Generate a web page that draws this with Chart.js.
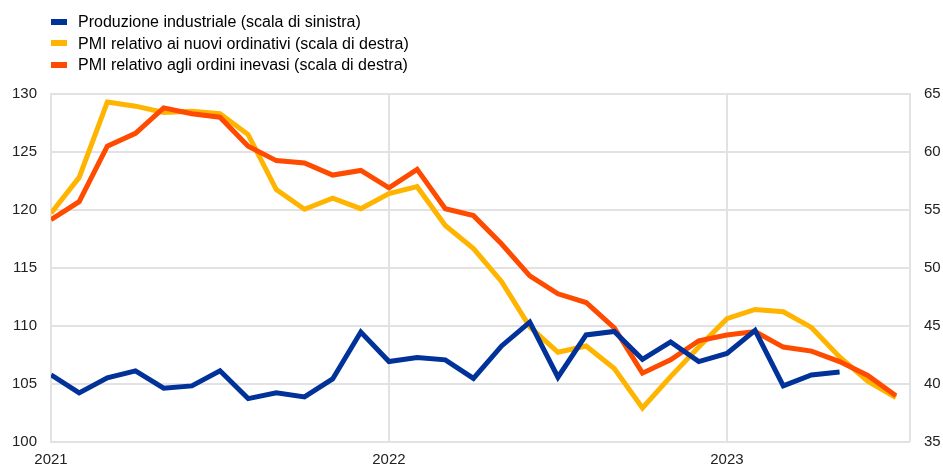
<!DOCTYPE html>
<html>
<head>
<meta charset="utf-8">
<script src="https://cdn.jsdelivr.net/npm/chart.js@4"></script>
<style>
  body { margin: 0; background: #fff; font-family: "Liberation Sans", Arial, sans-serif; }
  #wrap { position: relative; width: 943px; height: 468px; }
  #legend { position: absolute; left: 51px; top: 11px; font-size: 16px; color: #000; }
  .item { height: 21.7px; line-height: 21.7px; white-space: nowrap; }
  .item span.box { display: inline-block; width: 16px; height: 6px; margin-right: 11px; vertical-align: middle; position: relative; top: -1px; }
</style>
</head>
<body>
<div id="wrap">
  <canvas id="chart"></canvas>
  <div id="legend"></div>
</div>
<script>
// monthly, Jan 2021 -> Jul 2023
var months = ['2021-01','2021-02','2021-03','2021-04','2021-05','2021-06','2021-07','2021-08','2021-09','2021-10','2021-11','2021-12',
  '2022-01','2022-02','2022-03','2022-04','2022-05','2022-06','2022-07','2022-08','2022-09','2022-10','2022-11','2022-12',
  '2023-01','2023-02','2023-03','2023-04','2023-05','2023-06','2023-07'];
var yearLabels = ['2021', '2022', '2023'];

// left scale
var produzione = [105.75, 104.2, 105.5, 106.1, 104.6, 104.8, 106.1, 103.7, 104.2, 103.85, 105.4, 109.45,
  106.9, 107.25, 107.05, 105.45, 108.25, 110.3, 105.55, 109.2, 109.5, 107.1, 108.6, 106.9,
  107.6, 109.6, 104.8, 105.75, 106.0];
// right scale
var nuoviOrdinativi = [54.7, 57.8, 64.3, 63.95, 63.4, 63.5, 63.3, 61.5, 56.75, 55.05, 56.0, 55.1,
  56.4, 57.0, 53.65, 51.65, 48.8, 44.9, 42.7, 43.25, 41.3, 37.9, 40.6, 43.15,
  45.6, 46.4, 46.2, 44.85, 42.3, 40.2, 38.8];
var ordiniInevasi = [54.15, 55.7, 60.5, 61.6, 63.8, 63.3, 63.0, 60.5, 59.25, 59.05, 58.0, 58.4,
  56.9, 58.5, 55.1, 54.5, 52.05, 49.3, 47.75, 47.0, 44.8, 40.9, 42.05, 43.7,
  44.2, 44.5, 43.15, 42.8, 41.9, 40.7, 38.95];

var names = ['Produzione industriale (scala di sinistra)',
  'PMI relativo ai nuovi ordinativi (scala di destra)',
  'PMI relativo agli ordini inevasi (scala di destra)'];
var colors = ['#003299', '#ffb400', '#ff4b00'];

function pts(arr){
  return arr.map(function(v, i){ return {x: i, y: v}; });
}

var gridColor = '#e2e2e2';
var font = {family: '"Liberation Sans", Arial, sans-serif', size: 15};

// html legend
var lg = document.getElementById('legend');
names.forEach(function(n, i){
  var d = document.createElement('div');
  d.className = 'item';
  d.innerHTML = '<span class="box" style="background:' + colors[i] + '"></span>' + n;
  lg.appendChild(d);
});

Chart.defaults.color = '#222';
var ctx = document.getElementById('chart').getContext('2d');
new Chart(ctx, {
  type: 'line',
  data: {
    datasets: [{
      label: names[0], data: pts(produzione), yAxisID: 'y',
      borderColor: colors[0], borderWidth: 5, order: 0
    }, {
      label: names[1], data: pts(nuoviOrdinativi), yAxisID: 'y1',
      borderColor: colors[1], borderWidth: 5, order: 2
    }, {
      label: names[2], data: pts(ordiniInevasi), yAxisID: 'y1',
      borderColor: colors[2], borderWidth: 5, order: 1
    }]
  },
  options: {
    responsive: true,
    maintainAspectRatio: false,
    animation: false,
    layout: { padding: { top: 94, right: 0, bottom: 0, left: 0 } },
    elements: { point: { radius: 0 }, line: { tension: 0, fill: false } },
    plugins: { legend: { display: false }, tooltip: { enabled: false } },
    scales: {
      x: {
        type: 'linear', min: 0, max: 30.5,
        afterBuildTicks: function(ax){ ax.ticks = yearLabels.map(function(y, i){ return {value: i * 12}; }); },
        afterFit: function(ax){ ax.height = 26.5; },
        ticks: { font: font, padding: 9, maxRotation: 0,
          callback: function(v){ return yearLabels[v / 12]; } },
        grid: { color: gridColor, lineWidth: 2, drawTicks: false },
        border: { display: false }
      },
      y: {
        position: 'left', min: 100, max: 130,
        afterFit: function(ax){ ax.width = 51; },
        ticks: { stepSize: 5, font: font, padding: 14 },
        grid: { color: gridColor, lineWidth: 2, drawTicks: false },
        border: { display: true, color: gridColor, width: 2 }
      },
      y1: {
        position: 'right', min: 35, max: 65,
        afterFit: function(ax){ ax.width = 33; },
        ticks: { stepSize: 5, font: font, padding: 14 },
        grid: { drawOnChartArea: false, drawTicks: false },
        border: { display: true, color: gridColor, width: 2 }
      }
    }
  }
});
</script>
</body>
</html>
